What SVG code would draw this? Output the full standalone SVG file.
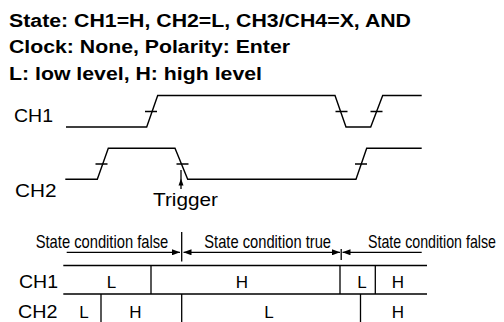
<svg xmlns="http://www.w3.org/2000/svg" width="504" height="322" viewBox="0 0 504 322">
<defs>
<style>
.t{font-family:"Liberation Sans",Arial,sans-serif;fill:#000}
.b{font-weight:bold;font-size:18px}
.lb{font-size:17.5px}
.c{font-size:17px}
.s{font-size:18px}
.w{fill:none;stroke:#000;stroke-width:1.4;stroke-linejoin:miter}
.k{stroke:#000;stroke-width:1.3;fill:none}
</style>
<marker id="ah" viewBox="0 0 8 6" refX="8" refY="3" markerWidth="8" markerHeight="6" markerUnits="userSpaceOnUse" orient="auto-start-reverse">
<path d="M0,0 L8,3 L0,6 Z" fill="#000"/>
</marker>
</defs>
<rect width="504" height="322" fill="#fff"/>
<g id="title">
<text class="t b" x="9" y="26.5" textLength="402" lengthAdjust="spacingAndGlyphs">State: CH1=H, CH2=L, CH3/CH4=X, AND</text>
<text class="t b" x="9" y="53" textLength="281" lengthAdjust="spacingAndGlyphs">Clock: None, Polarity: Enter</text>
<text class="t b" x="9" y="79.5" textLength="253" lengthAdjust="spacingAndGlyphs">L: low level, H: high level</text>
</g>
<g id="ch1-wave">
<text class="t lb" x="14" y="122" textLength="39" lengthAdjust="spacingAndGlyphs">CH1</text>
<polyline class="w" points="66,127 146.7,127 157.7,95.5 335,95.5 346,127 370.7,127 382.7,95.5 421.7,95.5"/>
<path class="k" d="M145,111.5H157M335.5,111.5H347.5M370.5,111.5H382.5"/>
</g>
<g id="ch2-wave">
<text class="t lb" x="15" y="196.5" textLength="41.5" lengthAdjust="spacingAndGlyphs">CH2</text>
<polyline class="w" points="65.3,179.3 97.3,179.3 108.3,148.3 175,148.3 187.7,179.3 356,179.3 366.7,148.3 421.7,148.3"/>
<path class="k" d="M95.5,164H107.5M176.5,164H188.5M355,164H367"/>
</g>
<g id="trigger">
<line class="k" x1="181" y1="170" x2="181" y2="189"/>
<path d="M181,178.5 L178.5,185.5 L183.5,185.5 Z" fill="#000"/>
<text class="t lb" x="153" y="206" textLength="65" lengthAdjust="spacingAndGlyphs">Trigger</text>
</g>
<g id="conditions">
<text class="t s" transform="translate(35.7,248) scale(0.82,1)" x="0" y="0" textLength="161.7" lengthAdjust="spacingAndGlyphs">State condition false</text>
<text class="t s" transform="translate(204.3,248) scale(0.82,1)" x="0" y="0" textLength="154.5" lengthAdjust="spacingAndGlyphs">State condition true</text>
<text class="t s" transform="translate(368,248) scale(0.79,1)" x="0" y="0" textLength="162" lengthAdjust="spacingAndGlyphs">State condition false</text>
</g>
<g id="connectors">
<line class="k" x1="66.7" y1="252.3" x2="180" y2="252.3" marker-end="url(#ah)"/>
<line class="k" x1="183.5" y1="252.3" x2="340" y2="252.3" marker-start="url(#ah)" marker-end="url(#ah)"/>
<line class="k" x1="342.5" y1="252.3" x2="421.7" y2="252.3" marker-start="url(#ah)"/>
<line class="k" x1="181.7" y1="232" x2="181.7" y2="261.5"/>
<line class="k" x1="341.2" y1="249" x2="341.2" y2="260"/>
</g>
<g id="table">
<path class="k" d="M63.3,265.5H427M63.3,294H427"/>
<path class="k" d="M151,265.5V294M340,265.5V294M375.3,265.5V294"/>
<path class="k" d="M101,294V322M181.7,294V322M360.5,294V322"/>
<text class="t lb" x="19" y="288" textLength="39" lengthAdjust="spacingAndGlyphs">CH1</text>
<text class="t lb" x="18" y="318" textLength="39.5" lengthAdjust="spacingAndGlyphs">CH2</text>
<g text-anchor="middle">
<text class="t c" x="111.5" y="288">L</text>
<text class="t c" x="242" y="288">H</text>
<text class="t c" x="362" y="288">L</text>
<text class="t c" x="398" y="288">H</text>
<text class="t c" x="84" y="317.5">L</text>
<text class="t c" x="135.5" y="317.5">H</text>
<text class="t c" x="269" y="317.5">L</text>
<text class="t c" x="398" y="317.5">H</text>
</g>
</g>
</svg>
